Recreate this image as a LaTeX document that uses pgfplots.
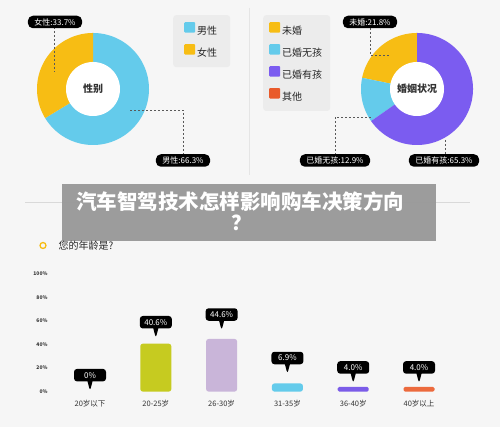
\documentclass[border=0pt]{standalone}
\usepackage{fontspec}
\setmainfont{Noto Sans CJK SC}
\usepackage{pgfplots}
\pgfplotsset{compat=1.18}
\usetikzlibrary{shapes.callouts}
\definecolor{bg}{HTML}{F6F6F6}
\definecolor{cy}{HTML}{64CBEB}
\definecolor{ye}{HTML}{F7BD14}
\definecolor{pu}{HTML}{7B5CF0}
\definecolor{rd}{HTML}{E95A2A}
\definecolor{lime}{HTML}{C6CB20}
\definecolor{lil}{HTML}{C9B5D9}
\definecolor{pu2}{HTML}{7B5CE8}
\definecolor{orr}{HTML}{EC6A3D}
\definecolor{txt}{HTML}{333333}
\definecolor{legbg}{HTML}{ECECEC}
\definecolor{ban}{HTML}{9A9A9A}
\tikzset{pill/.style={fill=black, text=white, rounded corners=5pt, inner xsep=6.5pt, inner ysep=0pt, minimum height=12.5pt, font=\fontsize{8}{9}\selectfont},
  lead/.style={black!65, dashed, dash pattern=on 2pt off 2pt, line width=0.5pt},
  lab/.style={rectangle callout, fill=black, text=white, rounded corners=3pt, callout relative pointer={(canvas cs:x=0pt,y=-9.5pt)}, callout pointer width=5pt, minimum width=32pt, minimum height=12.5pt, inner sep=1pt, font=\fontsize{8}{9}\selectfont}}
\pgfplotsset{donut/.style={anchor=south west, at={(0,0)}, x=1pt, y=1pt, xmin=0, xmax=500, ymin=0, ymax=427, hide axis, clip=false,
  legend cell align=left,
  legend style={anchor=north west, fill=legbg, draw=none, rounded corners=3pt, font=\fontsize{10}{12}\selectfont, text=black!85, row sep=6pt, inner ysep=7pt},
  legend image code/.code={\fill[##1, rounded corners=1pt] (0pt,-1.5pt) rectangle (11pt,9pt);}}}
\begin{document}
\begin{tikzpicture}[x=1pt,y=1pt]
\path[use as bounding box] (0,0) rectangle (500,427);
\fill[bg] (0,0) rectangle (500,427);
\draw[black!10] (249,419) -- (249,252);
\draw[black!15] (25,225) -- (470,225);

% ---- left donut: gender ----
\begin{axis}[donut, legend style={at={(0.346,0.965)}, inner xsep=11pt}]
\addplot[fill=cy, draw=none, domain=-148.68:90, samples=120] ({93+56*cos(x)},{338+56*sin(x)}) -- (axis cs:93,338) -- cycle;
\addlegendentry{男性}
\addplot[fill=ye, draw=none, domain=-270:-148.68, samples=80] ({93+56*cos(x)},{338+56*sin(x)}) -- (axis cs:93,338) -- cycle;
\addlegendentry{女性}
\addplot[fill=white, draw=none, domain=0:360, samples=120, forget plot] ({93+27*cos(x)},{338+27*sin(x)}) -- cycle;
\end{axis}

% ---- right donut: marital status ----
\begin{axis}[donut, legend style={at={(0.526,0.965)}, inner xsep=6pt}]
\addplot[fill=ye, draw=none, domain=-270:-191.52, samples=60] ({417+56*cos(x)},{338+56*sin(x)}) -- (axis cs:417,338) -- cycle;
\addlegendentry{未婚}
\addplot[fill=cy, draw=none, domain=-191.52:-145.08, samples=40] ({417+56*cos(x)},{338+56*sin(x)}) -- (axis cs:417,338) -- cycle;
\addlegendentry{已婚无孩}
\addplot[fill=pu, draw=none, domain=-145.08:90, samples=120] ({417+56*cos(x)},{338+56*sin(x)}) -- (axis cs:417,338) -- cycle;
\addlegendentry{已婚有孩}
\addplot[fill=white, draw=none, domain=0:360, samples=120, forget plot] ({417+27*cos(x)},{338+27*sin(x)}) -- cycle;
\addlegendimage{fill=rd, draw=none}
\addlegendentry{其他}
\end{axis}

\node[font=\fontsize{10}{12}\selectfont\bfseries, text=txt] at (93,338) {性别};
\node[font=\fontsize{10}{12}\selectfont\bfseries, text=txt] at (417,338) {婚姻状况};

% leaders and pills
\draw[lead] (54.5,400) -- (54.5,355);
\draw[lead] (130,317) -- (183,317) -- (183,272);
\draw[lead] (370,399) -- (370,372) -- (390,372);
\draw[lead] (335,272) -- (335,310) -- (372,310);
\draw[lead] (445,287) -- (445,272);
\node[pill] at (55,405) {女性:33.7\%};
\node[pill] at (183,266.5) {男性:66.3\%};
\node[pill] at (370,405) {未婚:21.8\%};
\node[pill] at (335,266.5) {已婚无孩:12.9\%};
\node[pill] at (444,266.5) {已婚有孩:65.3\%};

% ---- bar chart: age ----
\begin{axis}[anchor=south west, at={(73,30)}, x=65.8pt, y=1.18pt, xmin=-0.638, xmax=5.7, ymin=0, ymax=100, clip=false,
  axis line style={draw=none}, tick style={draw=none}, major tick length=0pt,
  xtick={0,1,2,3,4,5}, xticklabels={20岁以下,20-25岁,26-30岁,31-35岁,36-40岁,40岁以上},
  ytick={0,20,40,60,80,100}, yticklabel={\pgfmathprintnumber{\tick}\%},
  /pgf/number format/assume math mode=true,
  xticklabel style={font=\fontsize{7.5}{8}\selectfont, text=txt, yshift=-5.5pt},
  yticklabel style={font=\fontsize{5}{6}\selectfont\bfseries, text=txt, xshift=3pt},
  every node near coord/.style={lab}]
\addplot[ybar, bar width=31pt, bar shift=0pt, draw=none, fill=none, nodes near coords={0\%}, every node near coord/.append style={yshift=10pt}] coordinates {(0,0)};
\addplot[ybar, bar width=31pt, bar shift=0pt, draw=none, fill=lime, rounded corners=2.5pt, nodes near coords={40.6\%}, every node near coord/.append style={yshift=15pt}] coordinates {(1,40.6)};
\addplot[ybar, bar width=31pt, bar shift=0pt, draw=none, fill=lil, rounded corners=2.5pt, nodes near coords={44.6\%}, every node near coord/.append style={yshift=18pt}] coordinates {(2,44.6)};
\addplot[ybar, bar width=31pt, bar shift=0pt, draw=none, fill=cy, rounded corners=2.5pt, nodes near coords={6.9\%}, every node near coord/.append style={yshift=19pt}] coordinates {(3,6.9)};
\addplot[ybar, bar width=31pt, bar shift=0pt, draw=none, fill=pu2, rounded corners=1.5pt, nodes near coords={4.0\%}, every node near coord/.append style={yshift=13pt}] coordinates {(4,4.0)};
\addplot[ybar, bar width=31pt, bar shift=0pt, draw=none, fill=orr, rounded corners=1.5pt, nodes near coords={4.0\%}, every node near coord/.append style={yshift=13pt}] coordinates {(5,4.0)};
\end{axis}

% title banner
\fill[ban, opacity=0.97] (62,243) rectangle (436,186);
\node[text=white, font=\fontsize{20.5}{22}\selectfont\bfseries] at (240,225) {汽车智驾技术怎样影响购车决策方向};
\node[text=white, font=\fontsize{20.5}{22}\selectfont\bfseries] at (242,204) {？};

% question heading
\draw[color=ye, line width=1.3pt] (43,181.5) circle (3pt);
\node[anchor=west, font=\fontsize{10}{12}\selectfont, text=black!85] at (55,181.5) {您的年龄是?};
\end{tikzpicture}
\end{document}
